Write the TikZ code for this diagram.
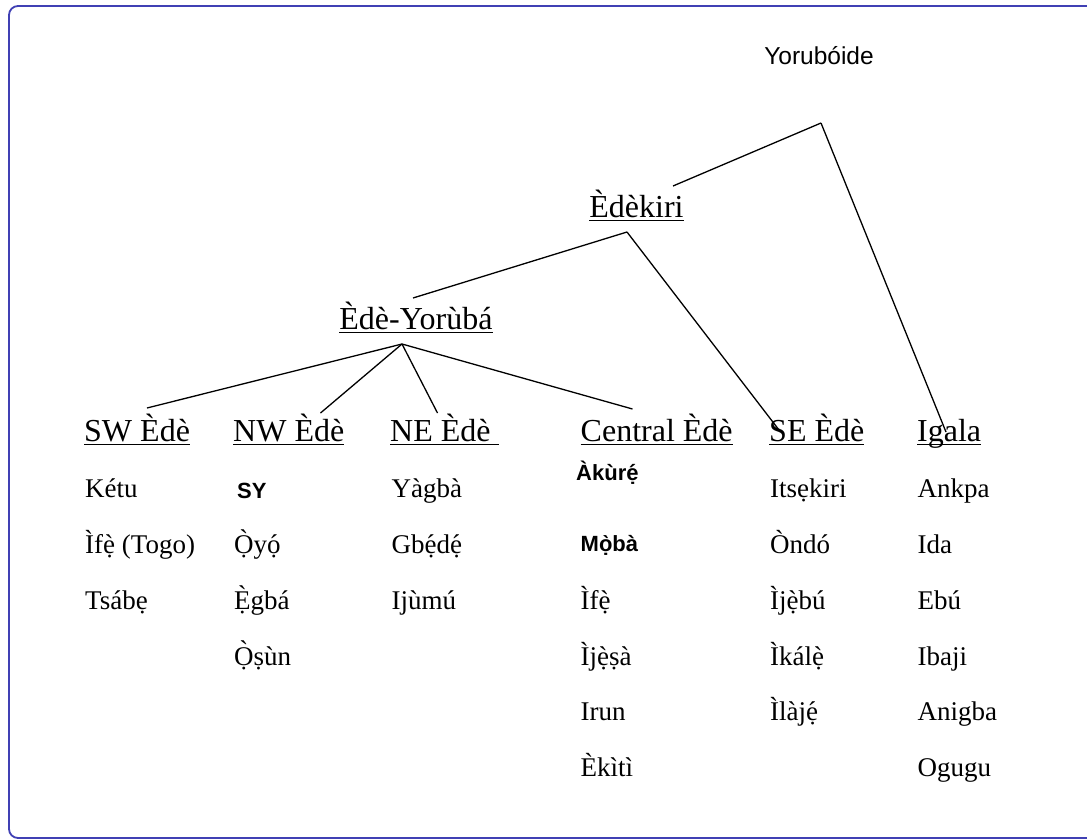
\documentclass[tikz,border=0pt]{standalone}
\usepackage{fontspec}
\setmainfont{Liberation Serif}
\newfontfamily\arialfont{Liberation Sans}
\definecolor{framecol}{RGB}{64,64,180}
\newcommand{\ulhead}[1]{\sbox0{#1}\rlap{\rule[-4.2pt]{\wd0}{1.7pt}}\usebox0}
% tone marks over letters that carry a dot below
\newcommand{\grv}[1]{{\accent"02CB #1}}
\newcommand{\acu}[1]{{\accent"00B4 #1}}
\tikzset{
    head/.style={anchor=base west, inner sep=0pt, font=\fontsize{32}{34}\selectfont},
    item/.style={anchor=base west, inner sep=0pt, font=\fontsize{27}{30}\selectfont},
    sitem/.style={anchor=base west, inner sep=0pt, font=\arialfont\bfseries\fontsize{22}{24}\selectfont},
    branch/.style={line width=1.3pt},
}
\begin{document}
\begin{tikzpicture}[x=1pt,y=-1pt]
        \useasboundingbox (0,0) rectangle (1087,839);
        \clip (0,0) rectangle (1087,839);
        \draw[framecol,line width=1.8pt,rounded corners=9pt] (9,6) rectangle (1200,838);
    
        % upper levels
        \draw (819,64) node[anchor=base,inner sep=0pt,font=\arialfont\fontsize{24.5}{26}\selectfont](yor) {Yorubóide};
        \draw (636.5,217) node[anchor=base,inner sep=0pt,font=\fontsize{32}{34}\selectfont](edekiri) {\ulhead{Èdèkiri}};
        \draw (416,329) node[anchor=base,inner sep=0pt,font=\fontsize{32}{34}\selectfont](edeyor) {\ulhead{Èdè-Yorùbá}};
    
        \coordinate (yorapex) at (821,123);
        \coordinate (edkin) at (673,186);
        \coordinate (edkapex) at (627,232);
        \coordinate (eyin) at (413,298);
        \coordinate (eyapex) at (402,344);
    
        % the groups
        \draw (84,441) node[head](sw) {\ulhead{SW Èdè}};
        \draw (233,441) node[head](nw) {\ulhead{NW Èdè}};
        \draw (390,441) node[head](ne) {\ulhead{NE Èdè\ }};
        \draw (580.5,441) node[head](central) {\ulhead{Central Èdè}};
        \draw (769,441) node[head](se) {\ulhead{SE Èdè}};
        \draw (917,441) node[head](igala) {\ulhead{Igala}};
    
        \coordinate (swin) at (147,408);
        \coordinate (nwin) at (320.5,413);
        \coordinate (nein) at (437.5,413);
        \coordinate (centralin) at (632.5,409);
        \coordinate (sein) at (779,430);
        \coordinate (igalain) at (946,432);
    
        \draw[branch] (yorapex) -- (edkin);
        \draw[branch] (yorapex) -- (igalain);
        \draw[branch] (edkapex) -- (eyin);
        \draw[branch] (edkapex) -- (sein);
        \draw[branch] (eyapex) -- (swin);
        \draw[branch] (eyapex) -- (nwin);
        \draw[branch] (eyapex) -- (nein);
        \draw[branch] (eyapex) -- (centralin);
    
        % SW
        \draw (85,497.7) node[item](ketu) {Kétu};
        \draw (85,553.3) node[item](ifetogo) {Ìf\grv{ẹ} (Togo)};
        \draw (85,609.3) node[item](tsabe) {Tsábẹ};
        % NW
        \draw (237,498.3) node[sitem](sy) {SY};
        \draw (234,553.3) node[item](oyo) {\grv{Ọ}y\acu{ọ}};
        \draw (234,609.3) node[item](egba) {\grv{Ẹ}gbá};
        \draw (234,665) node[item](osun) {\grv{Ọ}ṣùn};
        % NE
        \draw (391.5,497.7) node[item](yagba) {Yàgbà};
        \draw (391.5,553.3) node[item](gbede) {Gb\acu{ẹ}d\acu{ẹ}};
        \draw (391.5,609.3) node[item](ijumu) {Ijùmú};
        % Central
        \draw (576,480.7) node[sitem](akure) {Àkùr\acu{ẹ}};
        \draw (580.5,551.7) node[sitem](moba) {M\grv{ọ}bà};
        \draw (580.5,609.3) node[item](ife) {Ìf\grv{ẹ}};
        \draw (580.5,665) node[item](ijesa) {Ìj\grv{ẹ}ṣà};
        \draw (580.5,720.7) node[item](irun) {Irun};
        \draw (580.5,776.7) node[item](ekiti) {Èkìtì};
        % SE
        \draw (770,497.7) node[item](itsekiri) {Itsẹkiri};
        \draw (770,553.3) node[item](ondo) {Òndó};
        \draw (770,609.3) node[item](ijebu) {Ìj\grv{ẹ}bú};
        \draw (770,665) node[item](ikale) {Ìkál\grv{ẹ}};
        \draw (770,720.7) node[item](ilaje) {Ìlàj\acu{ẹ}};
        % Igala
        \draw (917.5,497.7) node[item](ankpa) {Ankpa};
        \draw (917.5,553.3) node[item](ida) {Ida};
        \draw (917.5,609.3) node[item](ebu) {Ebú};
        \draw (917.5,665) node[item](ibaji) {Ibaji};
        \draw (917.5,720.7) node[item](anigba) {Anigba};
        \draw (917.5,776.7) node[item](ogugu) {Ogugu};
    \end{tikzpicture}
\end{document}
